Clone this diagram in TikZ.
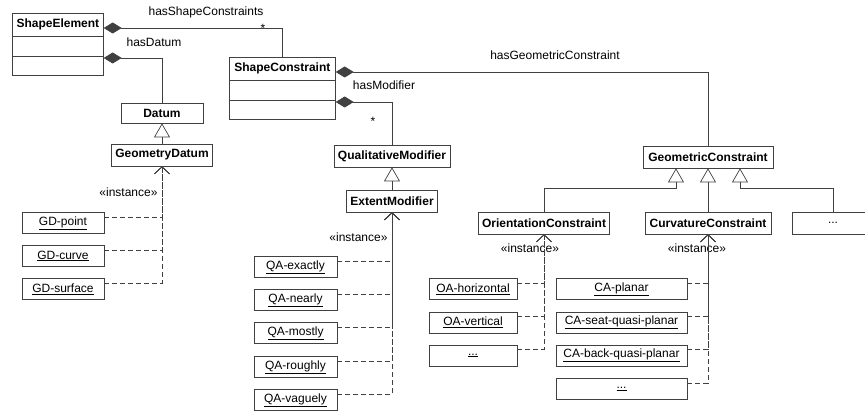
\documentclass[tikz,border=0pt]{standalone}
\usepackage{fontspec}
\setmainfont{Liberation Sans}
\usetikzlibrary{arrows.meta,shapes.multipart}

\newcommand{\umlfont}{\fontsize{12}{14}\selectfont}

\tikzset{
  umlline/.style={draw=black!75, line width=0.7pt},
  umlclass/.style={umlline, font=\umlfont\bfseries, minimum height=22pt, inner sep=0pt},
  umlclassthree/.style={umlline, font=\umlfont\bfseries, rectangle split, rectangle split parts=3,
    inner xsep=4pt, inner ysep=5.5pt, rectangle split empty part height=8pt,
    rectangle split empty part depth=0pt, anchor=north west},
  umlobject/.style={umlline, font=\umlfont, minimum height=21pt, inner sep=0pt},
  composition/.style={umlline, -{Diamond[length=18pt,width=11pt]}},
  inherit/.style={umlline, -{Triangle[open,length=14pt,width=16pt]}},
  instanceof/.style={umlline, dash pattern=on 5pt off 3pt, -{Straight Barb[length=7pt,width=15pt]}},
}

\begin{document}
\begin{tikzpicture}[x=1pt, y=-1pt, font=\umlfont]
\clip (0,0) rectangle (865,414);

% classes
\node[umlclassthree, minimum width=91pt] (ShapeElement) at (12,13) {ShapeElement};
\node[umlclassthree, minimum width=106pt] (ShapeConstraint) at (229,57) {ShapeConstraint};
\node[umlclass, minimum width=82pt, minimum height=20pt] (Datum) at (162,113) {Datum};
\node[umlclass, minimum width=101pt] (GeometryDatum) at (162,155) {GeometryDatum};
\node[umlclass, minimum width=116pt] (QualitativeModifier) at (392,156) {QualitativeModifier};
\node[umlclass, minimum width=91pt] (ExtentModifier) at (392,201) {ExtentModifier};
\node[umlclass, minimum width=130pt] (GeometricConstraint) at (708,157) {GeometricConstraint};
\node[umlclass, minimum width=131pt] (OrientationConstraint) at (544,223) {OrientationConstraint};
\node[umlclass, minimum width=126pt] (CurvatureConstraint) at (708,223) {CurvatureConstraint};
\node[umlclass, minimum width=82pt, font=\umlfont] (MoreConstraint) at (833,223) {...};

% instances
\node[umlobject, minimum width=82pt] (GDpoint) at (63,223) {\underline{GD-point}};
\node[umlobject, minimum width=82pt] (GDcurve) at (63,256) {\underline{GD-curve}};
\node[umlobject, minimum width=82pt] (GDsurface) at (63,289) {\underline{GD-surface}};

\node[umlobject, minimum width=83pt] (QAexactly) at (295.5,267) {\underline{QA-exactly}};
\node[umlobject, minimum width=83pt] (QAnearly) at (295.5,300) {\underline{QA-nearly}};
\node[umlobject, minimum width=83pt] (QAmostly) at (295.5,333) {\underline{QA-mostly}};
\node[umlobject, minimum width=83pt] (QAroughly) at (295.5,367) {\underline{QA-roughly}};
\node[umlobject, minimum width=83pt] (QAvaguely) at (295.5,400) {\underline{QA-vaguely}};

\node[umlobject, minimum width=88pt] (OAhorizontal) at (473,289) {\underline{OA-horizontal}};
\node[umlobject, minimum width=88pt] (OAvertical) at (473,322.5) {\underline{OA-vertical}};
\node[umlobject, minimum width=88pt] (OAmore) at (473,355.5) {\underline{...}};

\node[umlobject, minimum width=131pt] (CAplanar) at (621.5,289) {\underline{CA-planar}};
\node[umlobject, minimum width=131pt] (CAseat) at (621.5,322.5) {\underline{CA-seat-quasi-planar}};
\node[umlobject, minimum width=131pt] (CAback) at (621.5,355.5) {\underline{CA-back-quasi-planar}};
\node[umlobject, minimum width=131pt] (CAmore) at (621.5,389) {\underline{...}};

% compositions
\draw[composition] (ShapeConstraint.north) |- ([yshift=-15pt]ShapeElement.north east);
\draw[composition] (Datum.north) |- ([yshift=-45pt]ShapeElement.north east);
\draw[composition] (GeometricConstraint.north) |- ([yshift=-15pt]ShapeConstraint.north east);
\draw[composition] (QualitativeModifier.north) |- ([yshift=-45pt]ShapeConstraint.north east);

\node (hasShapeConstraints) at (206,12) {hasShapeConstraints};
\node (multShapeConstraints) at (263,28) {*};
\node (hasDatum) at (154,42) {hasDatum};
\node (hasGeometricConstraint) at (555,55) {hasGeometricConstraint};
\node (hasModifier) at (384,85) {hasModifier};
\node (multModifier) at (373,121) {*};

% generalisations
\draw[inherit] (GeometryDatum.north) -- (Datum.south);
\draw[inherit] (ExtentModifier.north) -- (QualitativeModifier.south);
\draw[inherit] (CurvatureConstraint.north) -- (GeometricConstraint.south);
\draw[inherit] (OrientationConstraint.north) -- ++(0,-23) -| ([xshift=-32pt]GeometricConstraint.south);
\draw[inherit] (MoreConstraint.north) -- ++(0,-23) -| ([xshift=32pt]GeometricConstraint.south);

% instance-of dependencies
\node[anchor=east] (instGD) at (161,192) {«instance»};
\node[anchor=east] (instQA) at (391,237) {«instance»};
\node (instOA) at (530,248) {«instance»};
\node (instCA) at (697,248) {«instance»};

\draw[instanceof] ([yshift=-5pt]GDpoint.north east) -| (GeometryDatum.south);
\draw[instanceof] ([yshift=-5pt]GDcurve.north east) -| (GeometryDatum.south);
\draw[instanceof] ([yshift=-5pt]GDsurface.north east) -| (GeometryDatum.south);

\draw[instanceof] ([yshift=-5pt]QAexactly.north east) -| (ExtentModifier.south);
\draw[instanceof] ([yshift=-5pt]QAnearly.north east) -| (ExtentModifier.south);
\draw[instanceof] ([yshift=-5pt]QAmostly.north east) -| (ExtentModifier.south);
\draw[instanceof] ([yshift=-5pt]QAroughly.north east) -| (ExtentModifier.south);
\draw[instanceof] ([yshift=-5pt]QAvaguely.north east) -| (ExtentModifier.south);

\draw[instanceof] ([yshift=-5pt]OAhorizontal.north east) -| (OrientationConstraint.south);
\draw[instanceof] ([yshift=-5pt]OAvertical.north east) -| (OrientationConstraint.south);
\draw[instanceof] ([yshift=-5pt]OAmore.north east) -| (OrientationConstraint.south);

\draw[instanceof] ([yshift=-5pt]CAplanar.north east) -| (CurvatureConstraint.south);
\draw[instanceof] ([yshift=-5pt]CAseat.north east) -| (CurvatureConstraint.south);
\draw[instanceof] ([yshift=-5pt]CAback.north east) -| (CurvatureConstraint.south);
\draw[instanceof] ([yshift=-5pt]CAmore.north east) -| (CurvatureConstraint.south);
\end{tikzpicture}
\end{document}
